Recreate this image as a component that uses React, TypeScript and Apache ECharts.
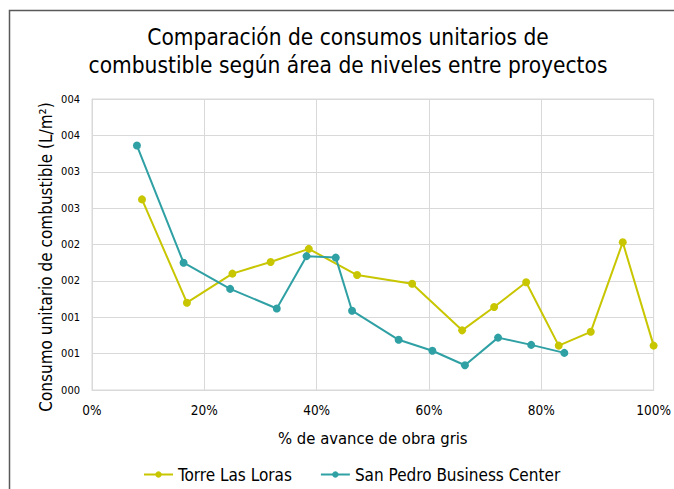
import React, { useEffect, useRef } from "react";
import * as echarts from "echarts";

const title = "Comparación de consumos unitarios de\ncombustible según área de niveles entre proyectos";
const xAxisName = "% de avance de obra gris";
const yAxisName = "Consumo unitario de combustible (L/m²)";
const seriesNames = ["Torre Las Loras", "San Pedro Business Center"];

const torreX = [8.9, 16.9, 25.0, 31.8, 38.6, 47.2, 57.0, 65.9, 71.6, 77.3, 83.1, 88.8, 94.5, 100.0];
const torreY = [2.62, 1.2, 1.6, 1.76, 1.94, 1.58, 1.46, 0.82, 1.14, 1.48, 0.61, 0.8, 2.03, 0.61];

const sanPedroX = [8.0, 16.3, 24.6, 32.9, 38.2, 43.4, 46.3, 54.6, 60.6, 66.4, 72.3, 78.2, 84.1];
const sanPedroY = [3.36, 1.75, 1.39, 1.12, 1.84, 1.82, 1.09, 0.69, 0.54, 0.34, 0.72, 0.62, 0.51];

const yTickLabels = ["000", "001", "001", "002", "002", "003", "003", "004", "004"];

const colors = ["#C8C600", "#2FA0A4"];
const FONT = "'DejaVu Sans Condensed', 'DejaVu Sans', sans-serif";

export default function App() {
  const ref = useRef<HTMLDivElement>(null);
  useEffect(() => {
    if (!ref.current) return;
    const chart = echarts.init(ref.current, null, { renderer: "svg" });
    chart.setOption({
      animation: false,
      textStyle: { fontFamily: FONT },
      title: {
        text: title,
        left: 343,
        top: 18,
        textAlign: "center",
        textStyle: { fontSize: 22.5, fontWeight: "normal", color: "#000", lineHeight: 28, fontFamily: FONT },
      },
      graphic: [
        {
          type: "rect",
          shape: { x: 9.5, y: 10.5, width: 720, height: 520 },
          style: { fill: "none", stroke: "#595959", lineWidth: 1.5 },
          silent: true,
        },
        {
          type: "text",
          x: 46,
          y: 257,
          rotation: Math.PI / 2,
          style: {
            text: yAxisName,
            fontSize: 17,
            fontFamily: FONT,
            fill: "#000",
            align: "center",
            verticalAlign: "middle",
          },
        },
      ],
      legend: {
        data: seriesNames,
        left: 138,
        top: 461,
        itemWidth: 29,
        itemHeight: 8,
        itemGap: 28,
        textStyle: { fontSize: 17, color: "#000", fontFamily: FONT },
      },
      grid: { left: 92, right: 17, top: 99, bottom: 99, containLabel: false, show: true, borderColor: "#d9d9d9", borderWidth: 1 },
      xAxis: {
        type: "value",
        min: 0,
        max: 100,
        interval: 20,
        name: xAxisName,
        nameLocation: "middle",
        nameGap: 40,
        nameTextStyle: { fontSize: 16.5, color: "#000", fontFamily: FONT },
        axisLine: { show: true, lineStyle: { color: "#d9d9d9" } },
        axisTick: { show: false },
        axisLabel: { fontSize: 13.5, color: "#000", margin: 13, formatter: (v: number) => v + "%" },
        splitLine: { show: true, lineStyle: { color: "#d9d9d9", width: 1 } },
      },
      yAxis: {
        type: "value",
        min: 0,
        max: 4,
        interval: 0.5,
        axisLine: { show: true, lineStyle: { color: "#d9d9d9" } },
        axisTick: { show: false },
        axisLabel: {
          fontSize: 11,
          color: "#000",
          margin: 12,
          formatter: (v: number) => yTickLabels[Math.round(v / 0.5)] ?? "",
        },
        splitLine: { show: true, lineStyle: { color: "#d9d9d9", width: 1 } },
      },
      series: [
        {
          name: seriesNames[0],
          type: "line",
          data: torreX.map((x, i) => [x, torreY[i]]),
          symbol: "circle",
          symbolSize: 8,
          itemStyle: { color: colors[0] },
          lineStyle: { color: colors[0], width: 2 },
        },
        {
          name: seriesNames[1],
          type: "line",
          data: sanPedroX.map((x, i) => [x, sanPedroY[i]]),
          symbol: "circle",
          symbolSize: 8,
          itemStyle: { color: colors[1] },
          lineStyle: { color: colors[1], width: 2 },
        },
      ],
    });
    return () => chart.dispose();
  }, []);
  return (
    <div
      ref={ref}
      style={{ width: 674, height: 489, position: "absolute", left: 0, top: 0, background: "#fff", overflow: "hidden" }}
    />
  );
}
